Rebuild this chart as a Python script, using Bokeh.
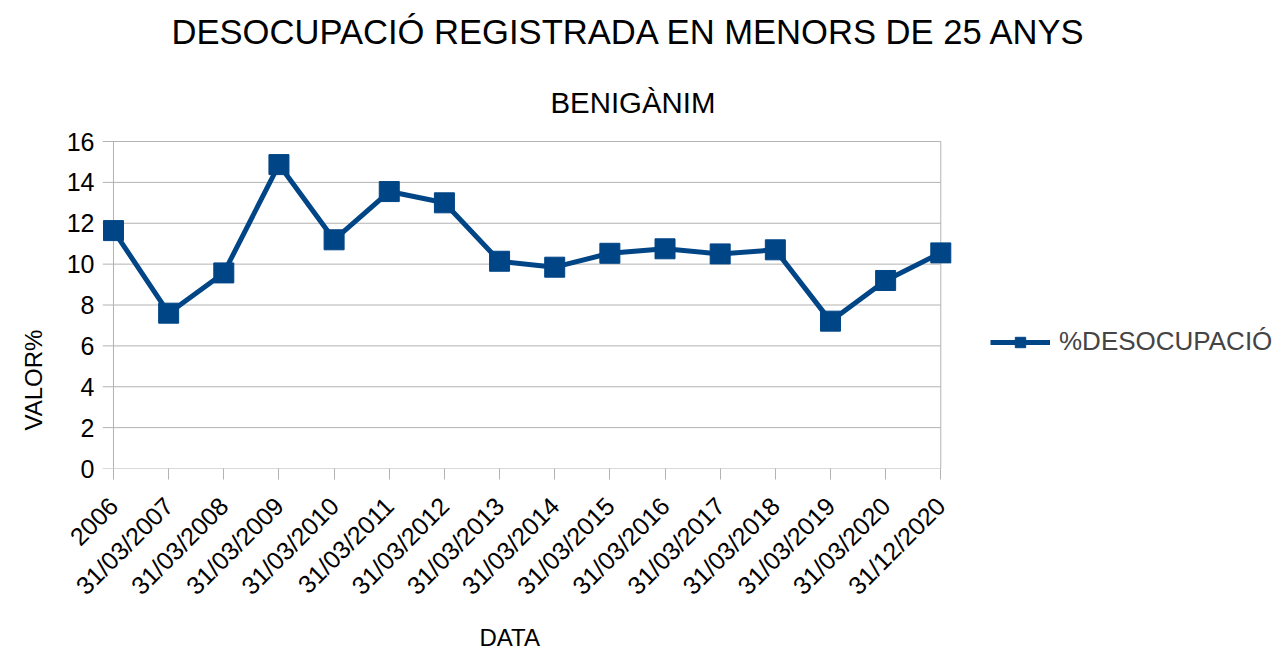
from math import pi
from bokeh.plotting import figure
from bokeh.models import Range1d, FixedTicker, Label, Legend, LegendItem, Title
from bokeh.embed import file_html
from bokeh.resources import INLINE

# ---- data ----
dates = ["2006", "31/03/2007", "31/03/2008", "31/03/2009", "31/03/2010",
         "31/03/2011", "31/03/2012", "31/03/2013", "31/03/2014", "31/03/2015",
         "31/03/2016", "31/03/2017", "31/03/2018", "31/03/2019", "31/03/2020",
         "31/12/2020"]
values = [11.64, 7.60, 9.57, 14.87, 11.19, 13.55, 13.00, 10.14, 9.85, 10.53,
          10.75, 10.50, 10.70, 7.21, 9.20, 10.55]
y_ticks = [0, 2, 4, 6, 8, 10, 12, 14, 16]
series_name = "%DESOCUPACIÓ"
title_text = "DESOCUPACIÓ REGISTRADA EN MENORS DE 25 ANYS"
subtitle_text = "BENIGÀNIM"
x_label = "DATA"
y_label = "VALOR%"

FONT = "Liberation Sans"
BLUE = "#004586"
GRAY = "#b3b3b3"

# ---- layout (pixels) ----
W, H = 1282, 659
LEFT, BOTTOM = 101, 191          # borders holding the axes
PLOT_LEFT = 112                  # screen x of the first category
TICK = PLOT_LEFT - LEFT          # length of the y tick stubs
PLOT_W, PLOT_H = 828, 327        # size of the gridded plot area
FRAME_W, FRAME_H = W - LEFT, H - BOTTOM

x = list(range(len(dates)))
x_last = len(dates) - 1
y_top = y_ticks[-1]

# frame is larger than the gridded area so that markers, legend and titles fit inside it
px_per_x = PLOT_W / x_last
x_start = -TICK / px_per_x
x_end = x_start + FRAME_W / px_per_x
y_end = y_top * FRAME_H / PLOT_H

p = figure(width=W, height=H, output_backend="svg", toolbar_location=None,
           x_range=Range1d(x_start, x_end), y_range=Range1d(0, y_end),
           min_border_left=LEFT, min_border_right=0, min_border_top=0,
           min_border_bottom=BOTTOM, title=None)
p.background_fill_color = "white"
p.border_fill_color = "white"
p.outline_line_color = None
p.grid.visible = False

# grid lines (with their tick stubs) and plot-area border
p.segment(x0=[x_start] * len(y_ticks), x1=[x_last] * len(y_ticks), y0=y_ticks, y1=y_ticks,
          line_color=GRAY, line_width=1)
p.segment(x0=[0, x_last], x1=[0, x_last], y0=[0, 0], y1=[y_top, y_top],
          line_color=GRAY, line_width=1)

ln = p.line(x, values, line_width=5, color=BLUE)
sq = p.scatter(x, values, marker="square", size=20, color=BLUE)

# axes
p.xaxis.ticker = FixedTicker(ticks=x)
p.xaxis.major_label_overrides = {i: d for i, d in zip(x, dates)}
p.xaxis.major_label_orientation = pi / 4
p.yaxis.ticker = FixedTicker(ticks=y_ticks)
for ax in (p.xaxis, p.yaxis):
    ax.axis_line_color = None
    ax.major_tick_line_color = GRAY
    ax.major_tick_in = 0
    ax.minor_tick_line_color = None
    ax.major_label_text_font = FONT
    ax.major_label_text_font_size = "25px"
    ax.major_label_text_color = "black"
p.xaxis.major_tick_out = 11
p.yaxis.major_tick_out = 0
p.yaxis.major_tick_line_color = None
p.yaxis.major_label_standoff = 8
p.xaxis.major_label_standoff = 22

# axis titles as side-panel titles (positioned along the axis with offset)
p.add_layout(Title(text=x_label, align="left", offset=377, standoff=18,
                   text_font=FONT, text_font_size="24px", text_font_style="normal",
                   text_color="black"), "below")
p.add_layout(Title(text=y_label, align="left", offset=38, standoff=34,
                   text_font=FONT, text_font_size="24px", text_font_style="normal",
                   text_color="black"), "left")

# chart titles (inside the frame, above the gridded area)
p.add_layout(Label(x=69, y=FRAME_H - 31.3, x_units="screen", y_units="screen",
                   text=title_text, text_font=FONT, text_font_size="34.6px",
                   text_color="black", text_baseline="alphabetic", text_align="left"))
p.add_layout(Label(x=448, y=FRAME_H - 102.3, x_units="screen", y_units="screen",
                   text=subtitle_text, text_font=FONT, text_font_size="29.4px",
                   text_color="black", text_baseline="alphabetic", text_align="left"))

legend = Legend(items=[LegendItem(label=series_name, renderers=[ln, sq])],
                location=(888, 111), padding=0, margin=0, spacing=0,
                glyph_width=60, glyph_height=26, label_height=26,
                label_standoff=9, label_text_font=FONT,
                label_text_font_size="26px", border_line_color=None,
                background_fill_alpha=0)
p.add_layout(legend, "center")

open("out.html", "w").write(file_html(p, INLINE))
